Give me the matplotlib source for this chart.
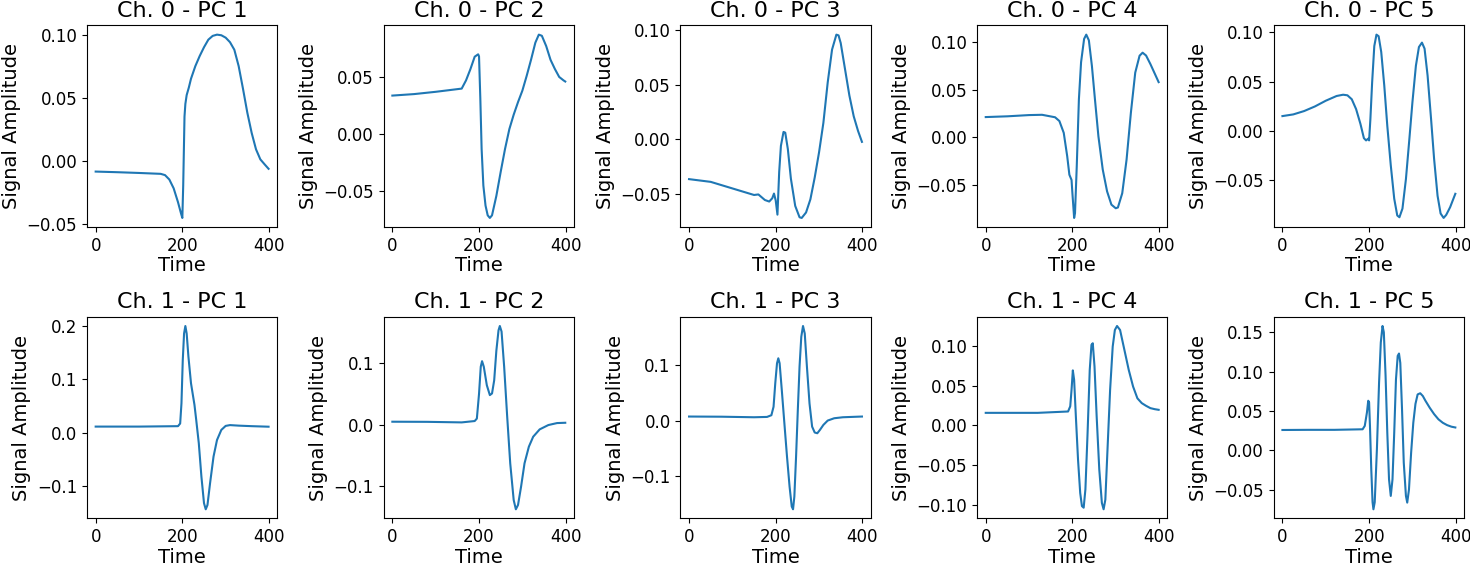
import matplotlib
matplotlib.use('Agg')
import matplotlib.pyplot as plt

# values, (time, amplitude) key points per component

ch0_pc1_t = [0, 50, 100, 150, 160, 170, 180, 190, 197, 200, 202, 205, 207, 210, 215, 220, 230, 240, 250,
             260, 270, 280, 290, 300, 310, 320, 330, 340, 350, 360, 370, 380, 390, 399]
ch0_pc1_v = [-0.0087, -0.0092, -0.0098, -0.0105, -0.0115, -0.015, -0.022, -0.033, -0.042, -0.0455, -0.02,
             0.035, 0.045, 0.052, 0.058, 0.065, 0.075, 0.083, 0.090, 0.096, 0.099, 0.100, 0.0995, 0.0976,
             0.094, 0.088, 0.075, 0.057, 0.038, 0.022, 0.009, 0.001, -0.003, -0.0065]

ch0_pc2_t = [0, 50, 100, 160, 170, 180, 190, 198, 200, 203, 206, 210, 215, 220, 225, 230, 240, 250, 260,
             270, 280, 290, 300, 310, 320, 330, 338, 345, 355, 365, 375, 385, 395, 399]
ch0_pc2_v = [0.0337, 0.035, 0.037, 0.0398, 0.047, 0.0567, 0.0677, 0.0698, 0.068, 0.031, -0.013, -0.045,
             -0.0625, -0.071, -0.0733, -0.071, -0.054, -0.033, -0.013, 0.0044, 0.017, 0.028, 0.038, 0.051,
             0.065, 0.080, 0.087, 0.086, 0.077, 0.065, 0.057, 0.050, 0.047, 0.046]

ch0_pc3_t = [0, 50, 100, 150, 160, 175, 185, 192, 196, 200, 204, 208, 212, 218, 222, 228, 235, 245, 255,
             260, 270, 280, 290, 300, 310, 320, 330, 340, 345, 350, 360, 370, 380, 390, 399]
ch0_pc3_v = [-0.0365, -0.039, -0.045, -0.051, -0.0505, -0.0556, -0.057, -0.054, -0.0497, -0.056, -0.069,
             -0.030, -0.006, 0.0067, 0.006, -0.009, -0.036, -0.061, -0.0714, -0.072, -0.067, -0.055,
             -0.035, -0.012, 0.015, 0.052, 0.082, 0.0957, 0.095, 0.088, 0.064, 0.040, 0.021, 0.0076,
             -0.0024]

ch0_pc4_t = [0, 50, 100, 130, 160, 170, 180, 188, 193, 198, 200, 204, 206, 210, 215, 220, 227, 232, 238,
             245, 252, 260, 270, 280, 290, 300, 305, 315, 325, 335, 345, 355, 362, 370, 380, 390, 399]
ch0_pc4_v = [0.0212, 0.022, 0.0233, 0.0236, 0.021, 0.017, 0.0046, -0.020, -0.0395, -0.045, -0.059,
             -0.085, -0.080, -0.031, 0.040, 0.079, 0.1035, 0.108, 0.102, 0.075, 0.040, 0.001, -0.034,
             -0.057, -0.071, -0.0748, -0.074, -0.059, -0.0236, 0.026, 0.068, 0.0858, 0.089, 0.086,
             0.077, 0.067, 0.058]

ch0_pc5_t = [0, 25, 50, 75, 100, 125, 140, 150, 160, 170, 180, 188, 193, 198, 200, 203, 207, 212, 217,
             222, 228, 235, 242, 250, 258, 265, 270, 277, 285, 293, 300, 308, 315, 322, 328, 335, 343,
             350, 358, 365, 372, 378, 387, 395, 399]
ch0_pc5_v = [0.0149, 0.0166, 0.020, 0.0247, 0.0305, 0.0353, 0.0366, 0.036, 0.032, 0.022, 0.007, -0.0075,
             -0.0098, -0.008, -0.0098, 0.012, 0.049, 0.086, 0.0976, 0.096, 0.080, 0.046, 0.005, -0.035,
             -0.069, -0.086, -0.0878, -0.079, -0.049, -0.008, 0.029, 0.066, 0.085, 0.0895, 0.0834, 0.056,
             0.012, -0.0285, -0.066, -0.084, -0.0885, -0.0854, -0.0776, -0.0685, -0.064]

ch1_pc1_t = [0, 100, 190, 195, 198, 201, 204, 207, 210, 214, 220, 228, 232, 238, 244, 250, 254, 258, 264,
             272, 280, 290, 300, 310, 330, 360, 399]
ch1_pc1_v = [0.0112, 0.0112, 0.012, 0.017, 0.055, 0.136, 0.186, 0.200, 0.186, 0.143, 0.0925, 0.052,
             0.024, -0.020, -0.0825, -0.1325, -0.144, -0.136, -0.095, -0.045, -0.014, 0.005, 0.0125,
             0.014, 0.013, 0.012, 0.011]

ch1_pc2_t = [0, 80, 160, 190, 195, 200, 204, 207, 211, 218, 225, 230, 235, 240, 245, 248, 252, 258, 265,
             272, 280, 285, 290, 297, 305, 315, 325, 340, 360, 380, 399]
ch1_pc2_v = [0.0049, 0.0047, 0.0038, 0.006, 0.010, 0.050, 0.094, 0.103, 0.094, 0.064, 0.048, 0.0507,
             0.072, 0.120, 0.153, 0.160, 0.151, 0.094, 0.013, -0.0625, -0.122, -0.137, -0.130, -0.1005,
             -0.0625, -0.0356, -0.0194, -0.0075, -0.0005, 0.0027, 0.0032]

ch1_pc3_t = [0, 75, 150, 180, 190, 195, 199, 203, 206, 209, 214, 220, 226, 232, 237, 240, 243, 247, 251,
             255, 259, 263, 267, 272, 278, 284, 290, 296, 302, 310, 320, 335, 355, 375, 399]
ch1_pc3_v = [0.0073, 0.007, 0.006, 0.0066, 0.0097, 0.025, 0.068, 0.104, 0.113, 0.104, 0.0556, -0.005,
             -0.065, -0.120, -0.156, -0.161, -0.138, -0.065, 0.019, 0.098, 0.152, 0.1716, 0.158, 0.098,
             0.031, -0.011, -0.0217, -0.023, -0.017, -0.0079, 0.0, 0.0042, 0.006, 0.0066, 0.0073]

ch1_pc4_t = [0, 60, 120, 190, 195, 198, 201, 204, 208, 213, 218, 222, 226, 230, 235, 240, 244, 247, 251,
             256, 262, 268, 272, 276, 281, 287, 293, 298, 303, 310, 320, 330, 340, 350, 360, 370, 380,
             390, 399]
ch1_pc4_v = [0.0158, 0.0158, 0.0158, 0.0175, 0.024, 0.0446, 0.069, 0.057, 0.011, -0.043, -0.0846, -0.101,
             -0.103, -0.080, -0.0096, 0.0696, 0.101, 0.103, 0.074, 0.011, -0.055, -0.097, -0.105, -0.093,
             -0.030, 0.0446, 0.0988, 0.1196, 0.1246, 0.1196, 0.0946, 0.0696, 0.0488, 0.034, 0.028,
             0.0246, 0.0217, 0.0204, 0.0196]

ch1_pc5_t = [0, 60, 120, 185, 190, 195, 198, 200, 202, 205, 208, 210, 213, 218, 223, 227, 231, 234, 238,
             242, 246, 250, 254, 258, 262, 266, 269, 272, 276, 280, 285, 288, 292, 297, 302, 307, 312,
             318, 324, 330, 340, 350, 360, 370, 380, 390, 399]
ch1_pc5_v = [0.0258, 0.026, 0.026, 0.0267, 0.031, 0.048, 0.063, 0.061, 0.031, -0.024, -0.066, -0.075,
             -0.066, 0.001, 0.086, 0.137, 0.158, 0.150, 0.095, 0.0225, -0.037, -0.058, -0.037, 0.0225,
             0.090, 0.120, 0.123, 0.111, 0.052, -0.0157, -0.058, -0.0665, -0.050, -0.003, 0.035, 0.059,
             0.071, 0.0725, 0.069, 0.063, 0.054, 0.046, 0.0394, 0.035, 0.032, 0.030, 0.029]

times = [[ch0_pc1_t, ch0_pc2_t, ch0_pc3_t, ch0_pc4_t, ch0_pc5_t],
         [ch1_pc1_t, ch1_pc2_t, ch1_pc3_t, ch1_pc4_t, ch1_pc5_t]]
values = [[ch0_pc1_v, ch0_pc2_v, ch0_pc3_v, ch0_pc4_v, ch0_pc5_v],
          [ch1_pc1_v, ch1_pc2_v, ch1_pc3_v, ch1_pc4_v, ch1_pc5_v]]


def main():
    fig, axes = plt.subplots(2, 5, figsize=(14.7, 5.66), dpi=100)
    for ch in range(2):
        for pc in range(5):
            ax = axes[ch, pc]
            ax.plot(times[ch][pc], values[ch][pc])
            ax.set_title(f'Ch. {ch} - PC {pc + 1}', fontsize=16)
            ax.set_xlabel('Time', fontsize=14, labelpad=1)
            ax.set_ylabel('Signal Amplitude', fontsize=14)
            ax.tick_params(labelsize=12)
    plt.subplots_adjust(left=0.0592, right=0.9959, top=0.955, bottom=0.084,
                        wspace=0.56, hspace=0.445)
    plt.savefig('out.png')


if __name__ == '__main__':
    main()
